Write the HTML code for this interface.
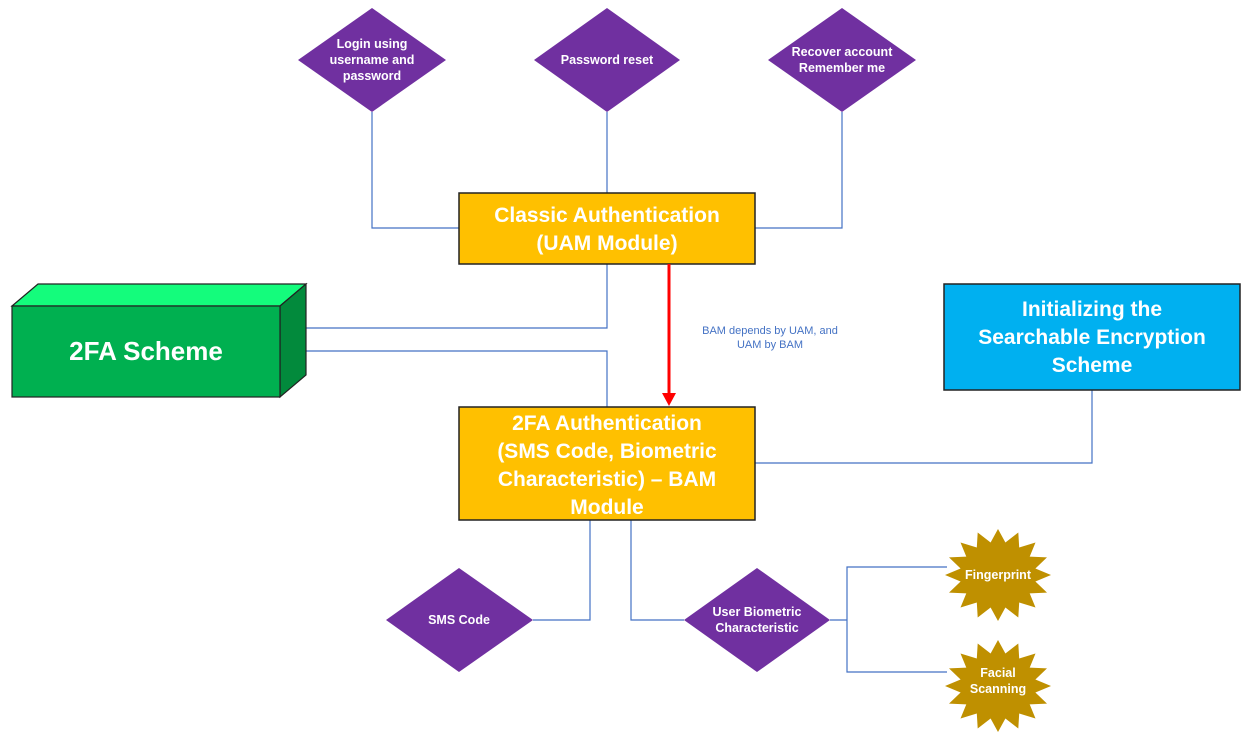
<!DOCTYPE html>
<html><head><meta charset="utf-8"><style>
html,body{margin:0;padding:0;background:#fff;}
svg{display:block;}
text{font-family:"Liberation Sans",sans-serif;font-weight:bold;fill:#fff;text-anchor:middle;}
</style></head><body>
<svg id="s" width="1250" height="734" viewBox="0 0 1250 734" xmlns="http://www.w3.org/2000/svg">
<g fill="none" stroke="#4472C4" stroke-width="1.2">
<polyline points="372,112 372,228 459,228"/>
<polyline points="607,112 607,193"/>
<polyline points="842,112 842,228 755,228"/>
<polyline points="607,264 607,328 306,328"/>
<polyline points="280,351 607,351 607,407"/>
<polyline points="1092,390 1092,463 755,463"/>
<polyline points="590,520 590,620 533,620"/>
<polyline points="631,520 631,620 684,620"/>
<polyline points="830,620 847,620"/>
<polyline points="947,567 847,567 847,672 947,672"/>
</g>
<g fill="#7030A0">
<polygon points="372,8 446,60 372,112 298,60"/>
<polygon points="607,8 680,60 607,112 534,60"/>
<polygon points="842,8 916,60 842,112 768,60"/>
<polygon points="459,568 533,620 459,672 386,620"/>
<polygon points="757,568 830,620 757,672 684,620"/>
</g>
<g font-size="12.5">
<text x="372" y="48">Login using</text><text x="372" y="64">username and</text><text x="372" y="80">password</text>
<text x="607" y="64">Password reset</text>
<text x="842" y="56">Recover account</text><text x="842" y="72">Remember me</text>
<text x="459" y="624">SMS Code</text>
<text x="757" y="616">User Biometric</text><text x="757" y="632">Characteristic</text>
</g>
<rect x="459" y="193" width="296" height="71" fill="#FFC000" stroke="#222" stroke-width="1.5"/>
<text x="607" y="222" font-size="21">Classic Authentication</text>
<text x="607" y="250" font-size="21">(UAM Module)</text>
<rect x="459" y="407" width="296" height="113" fill="#FFC000" stroke="#222" stroke-width="1.5"/>
<text x="607" y="430" font-size="21">2FA Authentication</text>
<text x="607" y="458" font-size="21">(SMS Code, Biometric</text>
<text x="607" y="486" font-size="21">Characteristic) – BAM</text>
<text x="607" y="514" font-size="21">Module</text>
<rect x="944" y="284" width="296" height="106" fill="#00B0F0" stroke="#222" stroke-width="1.5"/>
<text x="1092" y="316" font-size="21">Initializing the</text>
<text x="1092" y="344" font-size="21">Searchable Encryption</text>
<text x="1092" y="372" font-size="21">Scheme</text>
<polygon points="12,306 38,284 306,284 280,306" fill="#14FC7C" stroke="#222" stroke-width="1.2"/>
<polygon points="280,306 306,284 306,375 280,397" fill="#028A3C" stroke="#222" stroke-width="1.2"/>
<rect x="12" y="306" width="268" height="91" fill="#00B050" stroke="#222" stroke-width="1.2"/>
<text x="146" y="360" font-size="26">2FA Scheme</text>
<line x1="669" y1="264" x2="669" y2="393" stroke="#FF0000" stroke-width="3"/>
<polygon points="662,393 676,393 669,406" fill="#FF0000"/>
<text x="770" y="334" font-size="11" style="font-weight:normal;fill:#4472C4">BAM depends by UAM, and</text>
<text x="770" y="348" font-size="11" style="font-weight:normal;fill:#4472C4">UAM by BAM</text>
<polygon id="st1" fill="#BF9000"/>
<polygon id="st2" fill="#BF9000"/>
<text x="998" y="579" font-size="12.5">Fingerprint</text>
<text x="998" y="677" font-size="12.5">Facial</text>
<text x="998" y="693" font-size="12.5">Scanning</text>
</svg>
<script>
function star(id,cx,cy){var p=[],n=16;for(var i=0;i<2*n;i++){var a=Math.PI*i/n-Math.PI/2;var r=i%2?0.72:1;p.push((cx+53*r*Math.cos(a)).toFixed(1)+","+(cy+46*r*Math.sin(a)).toFixed(1));}
var e=document.getElementById(id);e.setAttribute("points",p.join(" "));var s=document.getElementById("s");s.insertBefore(e,s.querySelector('text[x="998"]'));}
star("st1",998,575);star("st2",998,686);
</script>
</body></html>
